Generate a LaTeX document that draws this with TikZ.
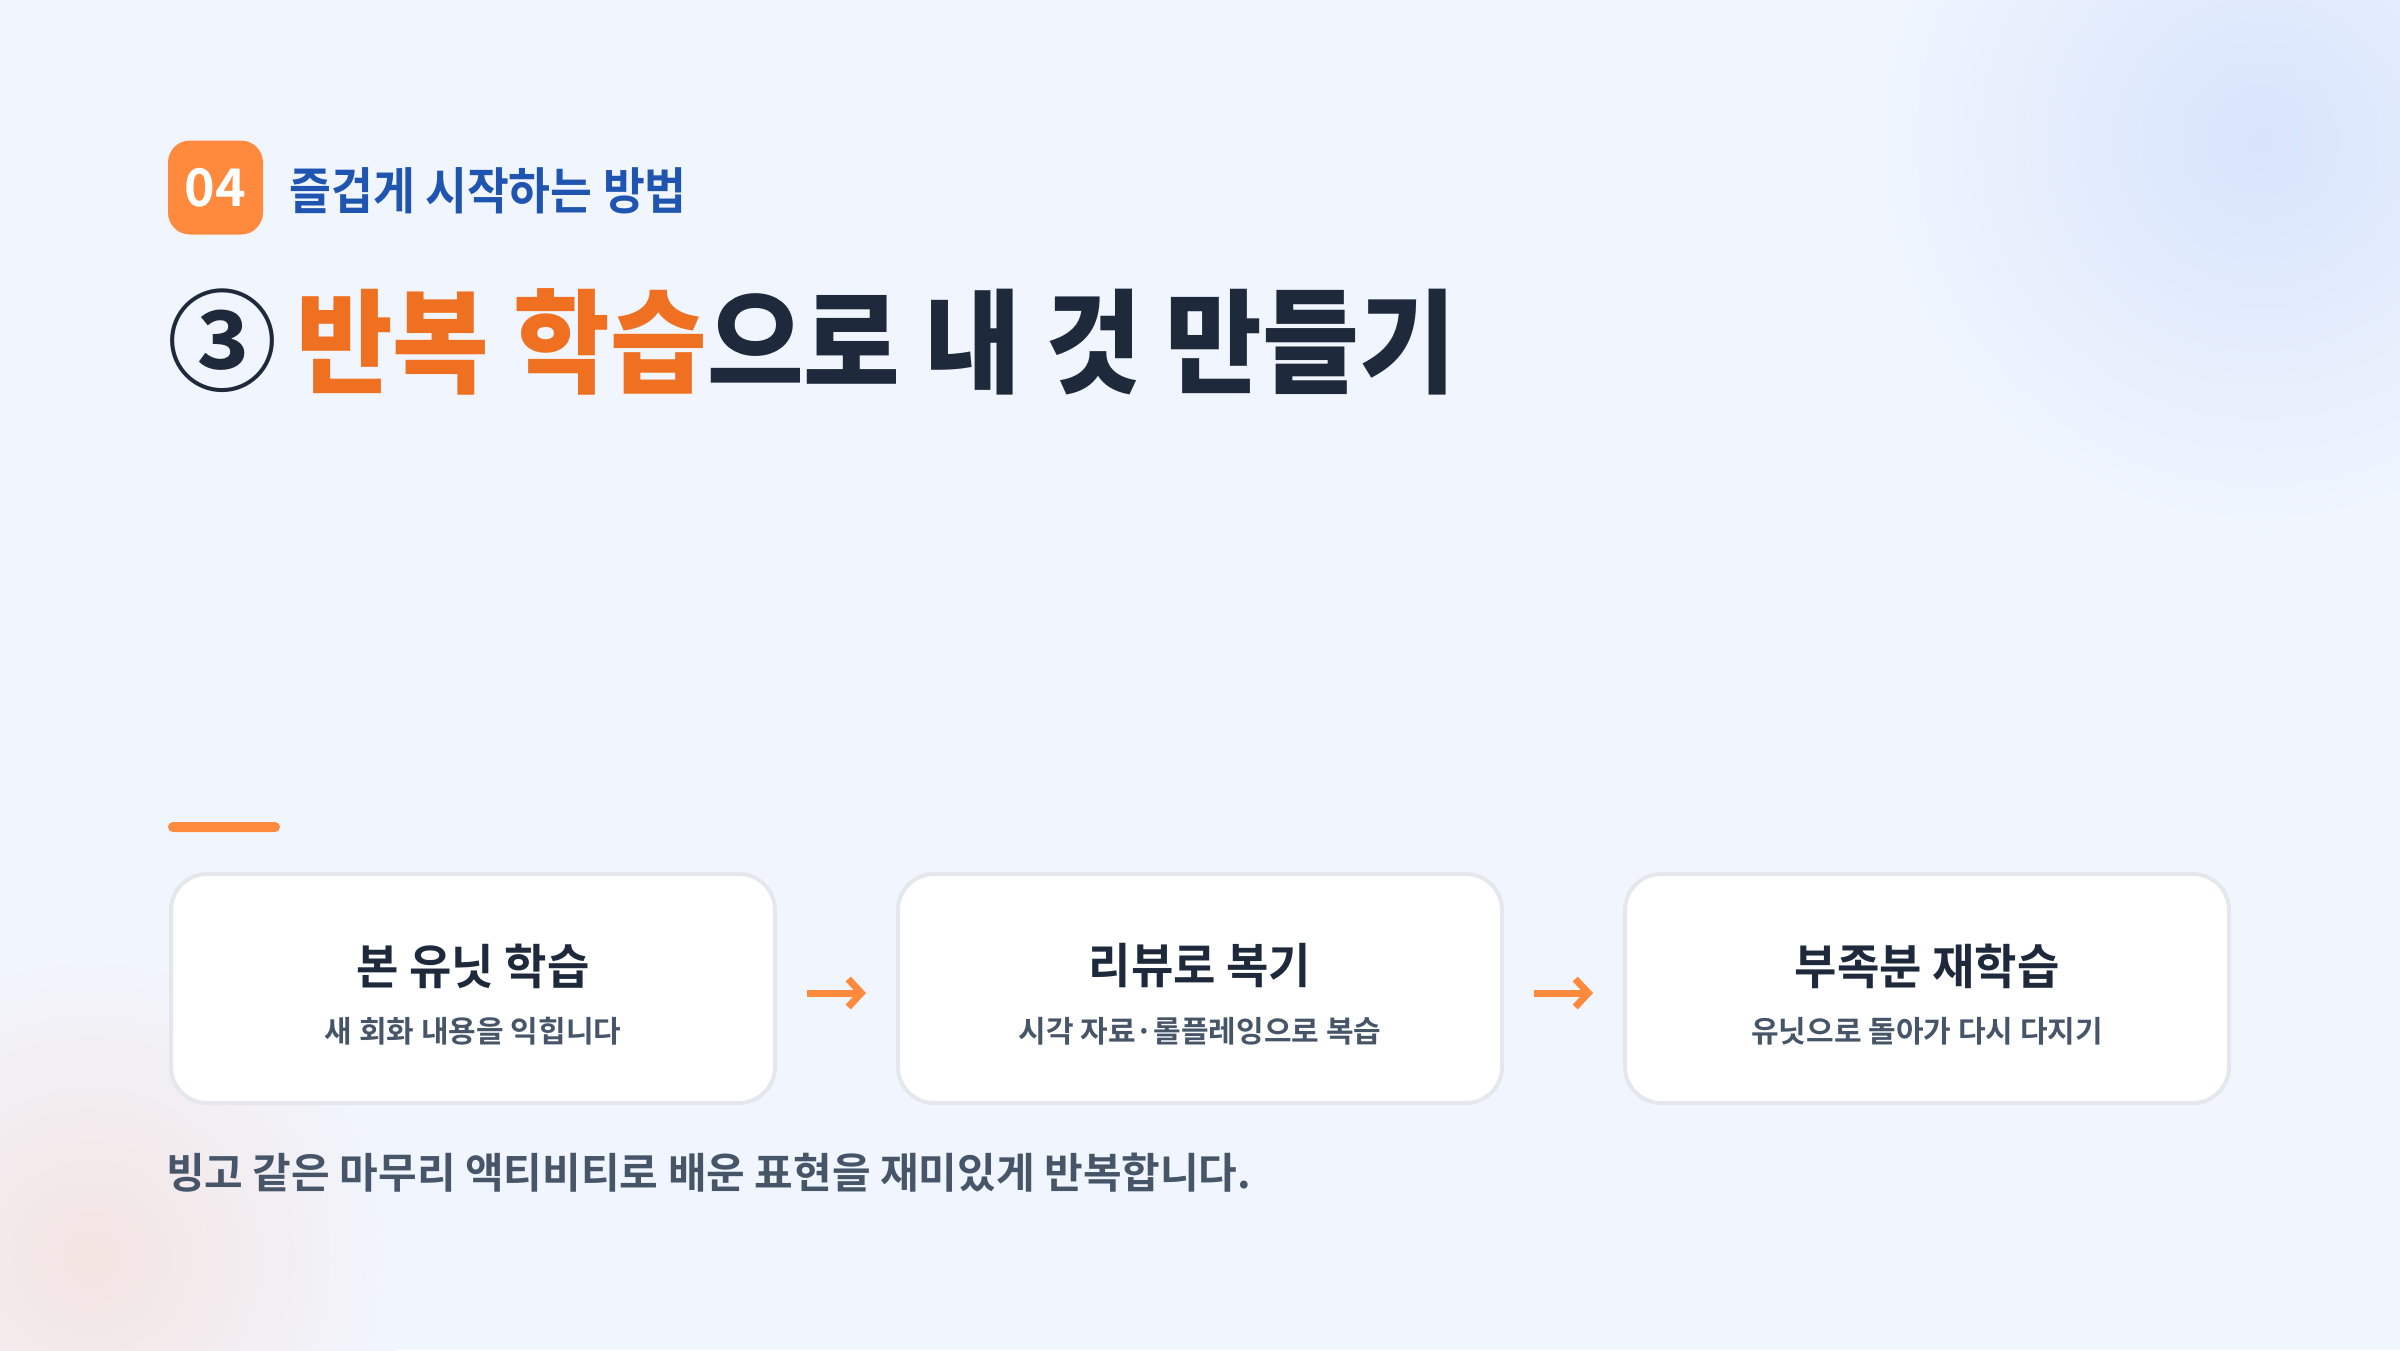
\documentclass[tikz,border=0pt]{standalone}
\usepackage{fontspec}
\usetikzlibrary{arrows.meta,positioning}

\newfontfamily\krbold{Noto Sans CJK KR Bold}
\IfFontExistsTF{Noto Sans CJK KR Black}
  {\newfontfamily\krheavy[FakeStretch=0.93]{Noto Sans CJK KR Black}}
  {\newfontfamily\krheavy[FakeStretch=0.96, FakeBold=1.2]{Noto Sans CJK KR Bold}}
\newfontfamily\krnarrow[FakeStretch=0.96]{Noto Sans CJK KR Bold}
\newfontfamily\krsemi[FakeStretch=0.91]{Noto Sans CJK KR Bold}

\definecolor{pagebg}{HTML}{F1F6FE}
\definecolor{accent}{HTML}{FF8A3D}
\definecolor{titleorange}{HTML}{EE7020}
\definecolor{ink}{HTML}{1E293B}
\definecolor{kickerblue}{HTML}{1F55B0}
\definecolor{muted}{HTML}{475569}
\definecolor{cardline}{HTML}{E4E7EB}
\definecolor{glowblue}{HTML}{D8E4FC}
\definecolor{glowpeach}{HTML}{F4E4E2}

\begin{document}
\begin{tikzpicture}[
  x=1pt, y=-1pt,
  badge/.style={fill=accent, rounded corners=22pt, minimum width=95pt, minimum height=94pt, inner sep=0pt, text=white, font=\krbold\fontsize{52}{60}\selectfont},
  kicker/.style={inner sep=0pt, text=kickerblue, font=\krsemi\fontsize{50}{60}\selectfont},
  headline/.style={inner sep=0pt, text=ink, font=\krheavy\fontsize{113}{136}\selectfont},
  card/.style={draw=cardline, line width=4pt, fill=white, rounded corners=36pt, minimum width=604pt, minimum height=229pt},
  cardtitle/.style={inner sep=0pt, text=ink, font=\krnarrow\fontsize{48}{58}\selectfont},
  cardtext/.style={inner sep=0pt, text=muted, font=\krbold\fontsize{30}{36}\selectfont},
  summary/.style={inner sep=0pt, text=muted, font=\krbold\fontsize{42}{50}\selectfont},
  flow/.style={-{Straight Barb[length=13pt, width=28pt]}, line width=7pt, draw=accent, shorten <=30pt, shorten >=30pt}
]
% page and soft glows
\fill[pagebg] (0,0) rectangle (2400,1350);
\begin{scope}
  \clip (0,0) rectangle (2400,1350);
  \shade[inner color=glowblue, outer color=pagebg] (2260,140) circle (400);
  \shade[inner color=glowpeach, outer color=pagebg] (90,1257) circle (320);
\end{scope}
\useasboundingbox (0,0) rectangle (2400,1350);

% header
\node[badge] (badge) at (215.5,187.5) {04};
\node[kicker, right=26pt of badge, yshift=-3pt] (kicker) {즐겁게 시작하는 방법};
\node[inner sep=0pt, text=ink, font=\krbold\fontsize{110}{130}\selectfont] (stepnum) at (222,341) {③};
\node[headline, anchor=west] (headline) at (296,341.5) {\textcolor{titleorange}{반복 학습}으로 내 것 만들기};

\fill[accent, rounded corners=5pt] (168,822) rectangle (280,832);

% three steps
\node[card] (unit) at (473,988.5) {};
\node[card] (review) at (1200,988.5) {};
\node[card] (relearn) at (1927,988.5) {};

\node[cardtitle] (unitTitle) at ([yshift=22.5pt]unit.center) {본 유닛 학습};
\node[cardtext] (unitText) at ([yshift=-42.5pt]unit.center) {새 회화 내용을 익힙니다};
\node[cardtitle] (reviewTitle) at ([yshift=22.5pt]review.center) {리뷰로 복기};
\node[cardtext] (reviewText) at ([yshift=-42.5pt]review.center) {시각 자료·롤플레잉으로 복습};
\node[cardtitle] (relearnTitle) at ([yshift=22.5pt]relearn.center) {부족분 재학습};
\node[cardtext] (relearnText) at ([yshift=-42.5pt]relearn.center) {유닛으로 돌아가 다시 다지기};

\draw[flow] ([yshift=-4.5pt]unit.east) -- ([yshift=-4.5pt]review.west);
\draw[flow] ([yshift=-4.5pt]review.east) -- ([yshift=-4.5pt]relearn.west);

\node[summary, anchor=west] (summary) at (166,1173) {빙고 같은 마무리 액티비티로 배운 표현을 재미있게 반복합니다.};
\end{tikzpicture}
\end{document}
